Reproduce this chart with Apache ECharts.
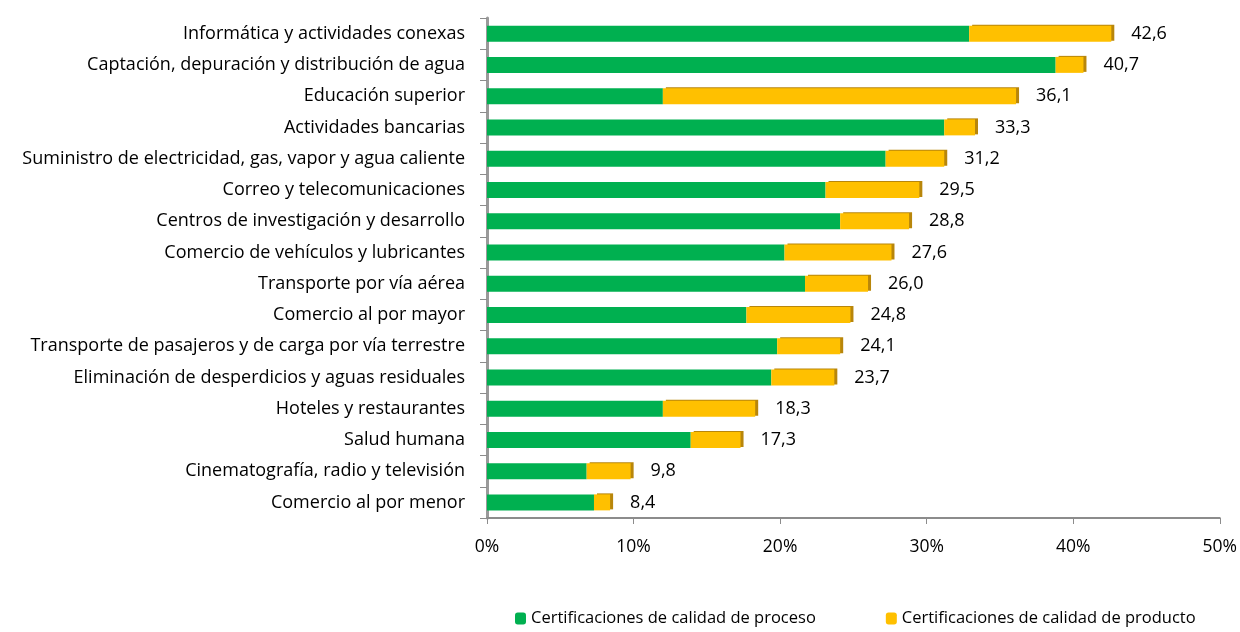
<!DOCTYPE html>
<html>
<head>
<meta charset="utf-8">
<script src="https://cdn.jsdelivr.net/npm/echarts@6/dist/echarts.min.js"></script>
<style>
  html, body { margin: 0; padding: 0; background: #fff; }
  #chart { width: 1240px; height: 632px; }
</style>
</head>
<body>
<div id="chart"></div>
<script>
// sectores (de arriba hacia abajo)
const sectores = [
  'Informática y actividades conexas',
  'Captación, depuración y distribución de agua',
  'Educación superior',
  'Actividades bancarias',
  'Suministro de electricidad, gas, vapor y agua caliente',
  'Correo y telecomunicaciones',
  'Centros de investigación y desarrollo',
  'Comercio de vehículos y lubricantes',
  'Transporte por vía aérea',
  'Comercio al por mayor',
  'Transporte de pasajeros y de carga por vía terrestre',
  'Eliminación de desperdicios y aguas residuales',
  'Hoteles y restaurantes',
  'Salud humana',
  'Cinematografía, radio y televisión',
  'Comercio al por menor'
]

// certificaciones de calidad de proceso (%)
const proceso = [32.9, 38.8, 12.0, 31.2, 27.2, 23.1, 24.1, 20.3, 21.7, 17.7, 19.8, 19.4, 12.0, 13.9, 6.8, 7.3]
// certificaciones de calidad de producto (%)
const producto = [9.7, 1.9, 24.1, 2.1, 4.0, 6.4, 4.7, 7.3, 4.3, 7.1, 4.3, 4.3, 6.3, 3.4, 3.0, 1.1]
// totales mostrados
const totales = ['42,6', '40,7', '36,1', '33,3', '31,2', '29,5', '28,8', '27,6', '26,0', '24,8', '24,1', '23,7', '18,3', '17,3', '9,8', '8,4']

const fuente = '"Open Sans", "Noto Sans", sans-serif'

const chart = echarts.init(document.getElementById('chart'))

const option = {
  animation: false,
  textStyle: { fontFamily: fuente },
  grid: { left: 487, right: 18, top: 18, bottom: 114 },
  legend: {
    bottom: 0,
    left: 510,
    itemGap: 70,
    itemWidth: 11,
    itemHeight: 12,
    textStyle: { fontSize: 16.5, color: '#000', fontFamily: fuente },
    data: ['Certificaciones de calidad de proceso', 'Certificaciones de calidad de producto']
  },
  xAxis: {
    type: 'value',
    min: 0,
    max: 50,
    interval: 10,
    axisLine: { show: true, lineStyle: { color: '#8c8c8c', width: 2 } },
    axisTick: { show: true, length: 6, lineStyle: { color: '#8c8c8c' } },
    splitLine: { show: false },
    axisLabel: { formatter: '{value}%', fontSize: 17.5, color: '#000', margin: 20 }
  },
  yAxis: {
    type: 'category',
    inverse: true,
    data: sectores,
    axisLine: { show: true, lineStyle: { color: '#9a9a9a', width: 3 } },
    axisTick: { show: true, length: 7, lineStyle: { color: '#8c8c8c' } },
    axisLabel: { fontSize: 18, color: '#000', margin: 22 }
  },
  series: [
    {
      name: 'Certificaciones de calidad de proceso',
      type: 'bar',
      stack: 'total',
      barWidth: 16,
      itemStyle: { color: '#00b050' },
      data: proceso
    },
    {
      name: 'Certificaciones de calidad de producto',
      type: 'bar',
      stack: 'total',
      barWidth: 16,
      itemStyle: {
        color: '#ffc000',
        shadowColor: '#b8860b',
        shadowOffsetX: 3,
        shadowOffsetY: -1
      },
      label: {
        show: true,
        position: 'right',
        distance: 20,
        fontSize: 18,
        color: '#000',
        formatter: p => totales[p.dataIndex]
      },
      data: producto
    }
  ]
}

chart.setOption(option)
</script>
</body>
</html>
